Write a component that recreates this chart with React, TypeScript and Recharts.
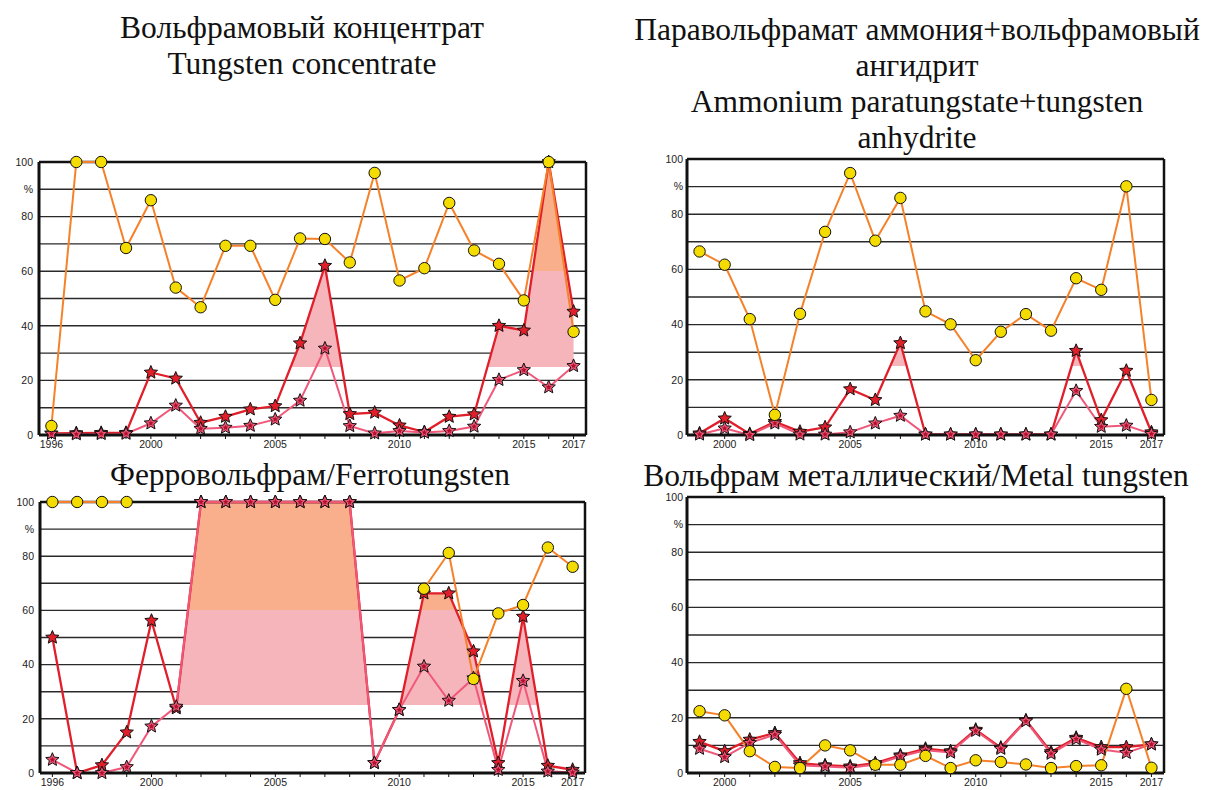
import { Area, CartesianGrid, ComposedChart, Line, ReferenceLine, XAxis, YAxis } from "recharts";

// years on the two kinds of panels
const yearsLong = [1996, 1997, 1998, 1999, 2000, 2001, 2002, 2003, 2004, 2005, 2006, 2007, 2008, 2009, 2010, 2011, 2012, 2013, 2014, 2015, 2016, 2017];
const yearsShort = [1999, 2000, 2001, 2002, 2003, 2004, 2005, 2006, 2007, 2008, 2009, 2010, 2011, 2012, 2013, 2014, 2015, 2016, 2017];
const labelsLong = [1996, 2000, 2005, 2010, 2015, 2017];
const labelsShort = [2000, 2005, 2010, 2015, 2017];
const yTicks = [0, 10, 20, 30, 40, 50, 60, 70, 80, 90, 100];
// shaded band (25% .. upper line) is only drawn from this year on
const shadeFrom = 2001;

// Tungsten concentrate
const concOrange = [3.3, 100, 100, 68.5, 86, 54, 46.8, 69.3, 69.3, 49.5, 72, 71.8, 63.2, 96, 56.6, 61.1, 85, 67.6, 62.7, 49.3, 100, 37.8];
const concRed = [0.6, 0.7, 0.8, 0.8, 22.9, 20.7, 4.5, 6.7, 9.4, 10.6, 33.6, 62, 7.7, 8.2, 3.5, 1.1, 6.7, 7.6, 40, 38.3, 100, 45.2];
const concPink = [0.5, 0.3, 0.4, 0.5, 4.3, 10.8, 2.3, 2.7, 3.4, 5.7, 12.6, 31.7, 3.3, 0.6, 1.5, 0.9, 1.5, 3.1, 20.2, 23.8, 17.5, 25.3];

// Ammonium paratungstate + tungsten anhydrite
const aptOrange = [66.5, 61.7, 42, 7.3, 43.9, 73.6, 94.9, 70.4, 85.9, 44.8, 40.1, 27.1, 37.4, 43.8, 37.8, 56.8, 52.6, 90.1, 12.7];
const aptRed = [0.6, 6, 0.4, 4.8, 1.2, 2.8, 16.6, 12.7, 33.3, 0.2, 0.2, 0.2, 0.2, 0.2, 0.2, 30.5, 5.4, 23.3, 1];
const aptPink = [0.2, 2.4, 0, 4.2, 0.2, 0.2, 1, 4.2, 7, 0.2, 0.2, 0.2, 0.2, 0.2, 0.2, 16, 3, 3.4, 0.4];

// Ferrotungsten
const ferroOrange = [100, 100, 100, 100, null, null, null, null, null, null, null, null, null, null, null, 68, 81.2, 34.7, 58.9, 62, 83.2, 76.1];
const ferroRed = [50, 0, 2.9, 15, 56.2, 23.9, 100, 100, 100, 100, 100, 100, 100, 3.7, 23.3, 66.3, 66.3, 44.9, 3.7, 57.7, 2.7, 1.2];
const ferroPink = [4.9, 0, 0, 2.2, 17.2, 24.5, 100, 100, 100, 100, 100, 100, 100, 3.7, 23.3, 39.3, 26.7, 35, 1.2, 34, 0.6, 0.2];

// Metal tungsten
const metalOrange = [22.4, 20.9, 7.9, 2.2, 1.8, 10, 8.2, 3, 3, 6.2, 1.8, 4.6, 4, 3.1, 1.8, 2.5, 2.8, 30.5, 1.9];
const metalRed = [11.3, 7.9, 12.1, 14.5, 3.6, 2.8, 2.4, 3.6, 6.4, 8.8, 7.9, 15.7, 9.2, 19.1, 7.6, 12.8, 9.4, 9.4, 10.4];
const metalPink = [8.8, 5.8, 10.9, 13.9, 2.8, 2.4, 1.9, 3.1, 6, 8.2, 7.4, 15.3, 8.8, 18.8, 7, 12.3, 8.5, 7.3, 10.4];

const ORANGE = "#f5822a";
const RED = "#e01f2b";
const PINK = "#f0587a";
const YELLOW = "#f5dc00";
const SALMON = "#f9ae8c";
const PINKFILL = "#f6b5bb";

function starPath(cx: number, cy: number, R: number, r: number) {
  let d = "";
  for (let k = 0; k < 10; k++) {
    const a = -Math.PI / 2 + (k * Math.PI) / 5;
    const rad = k % 2 === 0 ? R : r;
    d += (k === 0 ? "M" : "L") + (cx + rad * Math.cos(a)).toFixed(2) + "," + (cy + rad * Math.sin(a)).toFixed(2);
  }
  return d + "Z";
}

function redStar(p: any) {
  if (p.cx == null || p.cy == null || p.value == null) return <g key={p.index} />;
  return <path key={p.index} d={starPath(p.cx, p.cy, 7, 3.2)} fill={RED} stroke="#111" strokeWidth={1} />;
}

function pinkStar(p: any) {
  if (p.cx == null || p.cy == null || p.value == null) return <g key={p.index} />;
  return (
    <g key={p.index}>
      <path d={starPath(p.cx, p.cy, 7, 3.2)} fill={PINK} stroke="#111" strokeWidth={1} />
      <path d={starPath(p.cx, p.cy, 3, 1.4)} fill="#b0102a" />
    </g>
  );
}

function circleDot(p: any) {
  if (p.cx == null || p.cy == null || p.value == null) return <g key={p.index} />;
  return <circle key={p.index} cx={p.cx} cy={p.cy} r={5.7} fill={YELLOW} stroke="#111" strokeWidth={1} />;
}

interface PanelProps {
  id: string;
  left: number;
  top: number;
  width: number;
  height: number;
  marginTop: number;
  marginRight: number;
  yWidth: number;
  yGap: number;
  xHeight: number;
  years: number[];
  labels: number[];
  orange: (number | null)[];
  red: number[];
  pink: number[];
}

// fill between 25% and the upper star line, salmon above 60%
function FillGradient({ id, max }: { id: string; max: number }) {
  const o60 = Math.max(0, (max - 60) / max);
  const o25 = Math.max(0, (max - 25) / max);
  return (
    <defs>
      <linearGradient id={id} x1="0" y1="0" x2="0" y2="1">
        <stop offset={0} stopColor={max > 60 ? SALMON : PINKFILL} />
        <stop offset={o60} stopColor={max > 60 ? SALMON : PINKFILL} />
        <stop offset={o60} stopColor={PINKFILL} />
        <stop offset={o25} stopColor={PINKFILL} stopOpacity={max > 25 ? 1 : 0} />
        <stop offset={o25} stopColor={PINKFILL} stopOpacity={0} />
        <stop offset={1} stopColor={PINKFILL} stopOpacity={0} />
      </linearGradient>
    </defs>
  );
}

function Panel(props: PanelProps) {
  const { id, years, labels, orange, red, pink } = props;
  const data = years.map((year, i) => ({
    year,
    orange: orange[i],
    red: red[i],
    pink: pink[i],
    shade: year >= shadeFrom ? red[i] : null,
  }));
  const max = Math.max(...data.map((d) => (d.shade == null ? 0 : d.shade)));
  const lo = years[0] - 0.5;
  const hi = years[years.length - 1] + 0.5;
  const tickFont = { fontSize: 10.5, fill: "#222", fontFamily: "Liberation Sans, Arial" };
  return (
    <div style={{ position: "absolute", left: props.left, top: props.top }}>
      <ComposedChart
        width={props.width}
        height={props.height}
        data={data}
        margin={{ top: props.marginTop, right: props.marginRight, bottom: 0, left: 0 }}
      >
        <FillGradient id={id} max={max} />
        <Area
          dataKey="shade"
          stroke="none"
          fill={max > 25 ? `url(#${id})` : "none"}
          fillOpacity={1}
          isAnimationActive={false}
          activeDot={false}
        />
        <CartesianGrid vertical={false} stroke="#2a2a2a" strokeWidth={1.4} />
        <XAxis
          dataKey="year"
          type="number"
          domain={[lo, hi]}
          ticks={years}
          interval={0}
          height={props.xHeight}
          tickFormatter={(v: number) => (labels.includes(v) ? String(v) : "")}
          tick={tickFont}
          tickSize={4}
          tickMargin={2}
          tickLine={{ stroke: "#111" }}
          axisLine={{ stroke: "#111", strokeWidth: 3 }}
        />
        <YAxis
          type="number"
          domain={[0, 100]}
          ticks={yTicks}
          interval={0}
          width={props.yWidth}
          tickFormatter={(v: number) => (v === 90 ? "%" : v % 20 === 0 ? String(v) : "")}
          tick={tickFont}
          tickLine={false}
          tickSize={0}
          tickMargin={props.yGap}
          axisLine={{ stroke: "#111", strokeWidth: 3 }}
        />
        <ReferenceLine y={100} stroke="#111" strokeWidth={2.5} />
        <ReferenceLine x={hi} stroke="#111" strokeWidth={2.5} />
        <Line dataKey="red" stroke={RED} strokeWidth={2.3} dot={redStar} activeDot={false} isAnimationActive={false} />
        <Line dataKey="pink" stroke={PINK} strokeWidth={2} dot={pinkStar} activeDot={false} isAnimationActive={false} />
        <Line dataKey="orange" stroke={ORANGE} strokeWidth={2} dot={circleDot} activeDot={false} isAnimationActive={false} />
      </ComposedChart>
    </div>
  );
}

const titleStyle: React.CSSProperties = {
  position: "absolute",
  fontFamily: "'Liberation Serif', 'Times New Roman', serif",
  fontSize: 31.5,
  lineHeight: "36px",
  textAlign: "center",
  whiteSpace: "nowrap",
  color: "#111",
};

function Title({ cx, top, lines }: { cx: number; top: number; lines: string[] }) {
  return (
    <div style={{ ...titleStyle, left: cx - 300, width: 600, top }}>
      {lines.map((l) => (
        <div key={l}>{l}</div>
      ))}
    </div>
  );
}

export default function App() {
  return (
    <div style={{ position: "absolute", left: 0, top: 0, width: 1205, height: 790, background: "#fff", overflow: "hidden" }}>
      <Title cx={302} top={10} lines={["Вольфрамовый концентрат", "Tungsten concentrate"]} />
      <Title
        cx={917}
        top={12}
        lines={["Паравольфрамат аммония+вольфрамовый", "ангидрит", "Ammonium paratungstate+tungsten", "anhydrite"]}
      />
      <Title cx={310} top={457} lines={["Ферровольфрам/Ferrotungsten"]} />
      <Title cx={916} top={458} lines={["Вольфрам металлический/Metal tungsten"]} />

      <Panel id="g1" left={0} top={150} width={600} height={305} marginTop={12} marginRight={14} yWidth={39} yGap={6} xHeight={20}
        years={yearsLong} labels={labelsLong} orange={concOrange} red={concRed} pink={concPink} />
      <Panel id="g2" left={630} top={147} width={550} height={308} marginTop={12} marginRight={16} yWidth={57} yGap={4} xHeight={20}
        years={yearsShort} labels={labelsShort} orange={aptOrange} red={aptRed} pink={aptPink} />
      <Panel id="g3" left={0} top={490} width={600} height={300} marginTop={12} marginRight={15} yWidth={40} yGap={6} xHeight={17}
        years={yearsLong} labels={labelsLong} orange={ferroOrange} red={ferroRed} pink={ferroPink} />
      <Panel id="g4" left={630} top={485} width={550} height={305} marginTop={12} marginRight={16} yWidth={57} yGap={4} xHeight={17}
        years={yearsShort} labels={labelsShort} orange={metalOrange} red={metalRed} pink={metalPink} />
    </div>
  );
}
